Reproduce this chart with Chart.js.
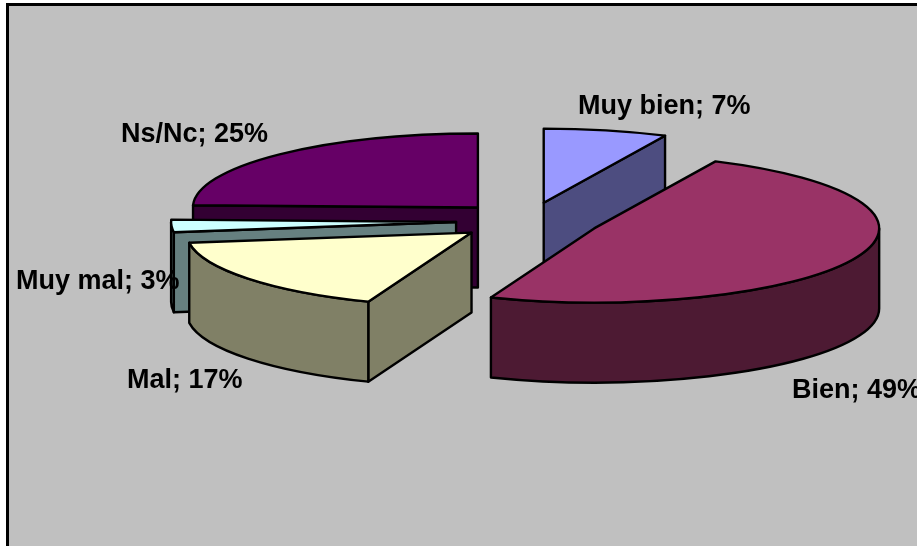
<!DOCTYPE html>
<html>
<head>
<meta charset="utf-8">
<script src="https://cdn.jsdelivr.net/npm/chart.js@4/dist/chart.umd.min.js"></script>
<style>
  html, body { margin: 0; background: #fff; overflow: hidden; }
  #frame { position: absolute; left: 6px; top: 3px; width: 911px; height: 543px; box-sizing: border-box;
           background: #c0c0c0; border-left: 3px solid #000; border-top: 3px solid #000; }
  #chart { position: absolute; left: 0; top: 0; }
</style>
</head>
<body>
<div id="frame"></div>
<canvas id="chart" width="917" height="546"></canvas>
<script>
const categories = ["Muy bien", "Bien", "Mal", "Muy mal", "Ns/Nc"];
const seriesValues = [7, 48.9, 16.9, 2.7, 24.5];
const sliceColors = ["#9999ff", "#993366", "#ffffcc", "#ccffff", "#660066"];

function halfShade(hex) {
  const n = parseInt(hex.slice(1), 16);
  const c = [n >> 16, (n >> 8) & 255, n & 255].map((v) => Math.round(v / 2));
  return `rgb(${c[0]},${c[1]},${c[2]})`;
}

/** Squashed, extruded pie: uses the angles and radius the arc elements got from the controller. */
const pie3d = {
  id: "pie3d",
  beforeDatasetsDraw(chart, args, opts) {
    const { ctx } = chart;
    const arcs = chart.getDatasetMeta(0).data.map((el, i) => {
      const mid = (el.startAngle + el.endAngle) / 2;
      return {
        i,
        a0: el.startAngle,
        a1: el.endAngle,
        r: el.outerRadius,
        x: el.x + Math.cos(mid) * opts.explode,
        y: el.y + Math.sin(mid) * opts.explode * opts.squash,
      };
    });
    ctx.save();
    ctx.strokeStyle = "#000";
    ctx.lineWidth = opts.lineWidth;
    ctx.lineJoin = "round";
    for (const a of arcs.sort((p, q) => p.y - q.y)) {
      const ry = a.r * opts.squash;
      const face = halfShade(sliceColors[a.i]);
      const cut = (t) => {
        const ex = a.x + Math.cos(t) * a.r;
        const ey = a.y + Math.sin(t) * ry;
        ctx.beginPath();
        ctx.moveTo(a.x, a.y);
        ctx.lineTo(ex, ey);
        ctx.lineTo(ex, ey + opts.depth);
        ctx.lineTo(a.x, a.y + opts.depth);
        ctx.closePath();
        ctx.fillStyle = face;
        ctx.fill();
        ctx.stroke();
      };
      if (Math.cos(a.a1) > 0.001) cut(a.a1);
      if (Math.cos(a.a0) < -0.001) cut(a.a0);
      // outer wall, only the part on the near side
      const s = Math.max(a.a0, 0);
      const e = Math.min(a.a1, Math.PI);
      if (e > s) {
        ctx.beginPath();
        ctx.ellipse(a.x, a.y, a.r, ry, 0, s, e);
        ctx.ellipse(a.x, a.y + opts.depth, a.r, ry, 0, e, s, true);
        ctx.closePath();
        ctx.fillStyle = face;
        ctx.fill();
        ctx.stroke();
      }
      // top
      ctx.beginPath();
      ctx.moveTo(a.x, a.y);
      ctx.ellipse(a.x, a.y, a.r, ry, 0, a.a0, a.a1);
      ctx.closePath();
      ctx.fillStyle = sliceColors[a.i];
      ctx.fill();
      ctx.stroke();
    }
    ctx.restore();
    return false;
  },
  afterDraw(chart, args, opts) {
    const { ctx } = chart;
    const total = seriesValues.reduce((s, v) => s + v, 0);
    ctx.save();
    ctx.font = opts.font;
    ctx.fillStyle = "#000";
    ctx.textBaseline = "alphabetic";
    categories.forEach((name, i) => {
      const pct = Math.round((seriesValues[i] / total) * 100);
      ctx.fillText(`${name}; ${pct}%`, opts.labelAt[i][0], opts.labelAt[i][1]);
    });
    ctx.restore();
  },
};

new Chart(document.getElementById("chart"), {
  type: "pie",
  data: {
    labels: categories,
    datasets: [{ data: seriesValues, backgroundColor: sliceColors }],
  },
  options: {
    responsive: false,
    animation: false,
    radius: 285,
    layout: { padding: { left: 139, bottom: 104 } },
    plugins: {
      legend: { display: false },
      tooltip: { enabled: false },
      pie3d: {
        explode: 72,
        squash: 0.26,
        depth: 80,
        lineWidth: 2.4,
        font: "bold 27px 'Liberation Sans', Arial, sans-serif",
        labelAt: [[578, 114], [792, 398], [127, 388], [16, 289], [121, 142]],
      },
    },
  },
  plugins: [pie3d],
});
</script>
</body>
</html>
